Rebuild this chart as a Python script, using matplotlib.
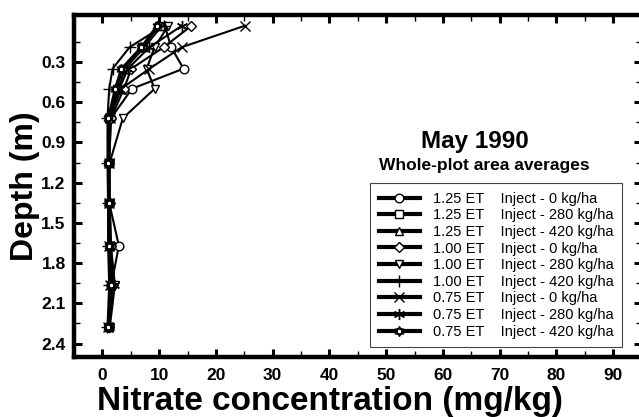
import matplotlib
matplotlib.use('Agg')
import matplotlib.pyplot as plt
from matplotlib.path import Path
from matplotlib.ticker import FixedLocator

plt.rcParams['font.family'] = ['Liberation Sans', 'DejaVu Sans']

# depth of each sample (m)
depth = [0.03, 0.19, 0.35, 0.50, 0.72, 1.05, 1.35, 1.67, 1.96, 2.28]

# nitrate (mg/kg) for each treatment
n_125_0 = [11.0, 12.1, 14.3, 5.2, 1.5, 1.2, 1.2, 2.9, 1.6, 1.2]
n_125_280 = [10.0, 7.0, 3.6, 2.5, 1.1, 1.1, 1.2, 1.3, 1.5, 1.1]
n_125_420 = [10.5, 7.4, 4.0, 2.8, 1.2, 1.1, 1.2, 1.3, 1.6, 1.1]
n_100_0 = [15.7, 10.8, 5.1, 3.8, 1.5, 1.2, 1.3, 1.5, 1.9, 1.2]
n_100_280 = [11.6, 9.2, 7.8, 9.2, 3.6, 1.3, 1.3, 1.5, 2.2, 1.3]
n_100_420 = [10.8, 4.8, 1.8, 1.2, 0.9, 0.9, 1.0, 1.0, 1.2, 0.9]
n_075_0 = [25.1, 14.0, 8.3, 3.3, 1.3, 1.1, 1.1, 1.2, 1.4, 1.0]
n_075_280 = [14.0, 8.3, 4.5, 3.0, 1.2, 1.1, 1.2, 1.3, 2.0, 1.1]
n_075_420 = [9.6, 6.8, 3.3, 2.2, 1.0, 1.0, 1.1, 1.2, 1.5, 1.0]

et_levels = ['1.25', '1.25', '1.25', '1.00', '1.00', '1.00', '0.75', '0.75', '0.75']
inject = ['0', '280', '420', '0', '280', '420', '0', '280', '420']

# two overlaid triangles for the last series
up = [(0, 1), (-0.866, -0.5), (0.866, -0.5), (0, 1)]
dn = [(0, -1), (0.866, 0.5), (-0.866, 0.5), (0, -1)]
codes = [Path.MOVETO, Path.LINETO, Path.LINETO, Path.CLOSEPOLY]
hexagram = Path(up + dn, codes + codes)

markers = ['o', 's', '^', 'D', 'v', '+', 'x', (6, 2, 0), hexagram]
msizes = [6.2, 5.6, 6.2, 5.2, 6.2, 8, 7, 8, 7]
series = [n_125_0, n_125_280, n_125_420, n_100_0, n_100_280, n_100_420,
          n_075_0, n_075_280, n_075_420]

fig = plt.figure(figsize=(6.39, 4.17), dpi=100)
ax = fig.add_axes([74/639, 1-357/417, 567.6/639, 342/417])

for vals, m, ms, et, inj in zip(series, markers, msizes, et_levels, inject):
    ax.plot(vals, depth, color='black', lw=1.5, marker=m, ms=ms,
            mfc='white', mec='black', mew=1.0,
            label=f'{et} ET    Inject - {inj} kg/ha')

ax.set_xlim(-5, 95)
ax.set_ylim(2.5, -0.05)

ax.xaxis.set_major_locator(FixedLocator(range(0, 91, 10)))
ax.xaxis.set_minor_locator(FixedLocator(range(5, 90, 10)))
yt = [0.3, 0.6, 0.9, 1.2, 1.5, 1.8, 2.1, 2.4]
ax.yaxis.set_major_locator(FixedLocator(yt))
ax.yaxis.set_minor_locator(FixedLocator([v - 0.15 for v in yt]))
ax.set_yticklabels(['%.1f' % v for v in yt])

ax.tick_params(which='both', direction='in', top=True, right=True)
ax.tick_params(which='major', length=6, width=2.2, labelsize=12.5, pad=6)
ax.tick_params(which='minor', length=4.5, width=1.0)
ax.tick_params(axis='x', which='major', pad=8)
for lbl in ax.get_xticklabels() + ax.get_yticklabels():
    lbl.set_fontweight('bold')
for sp in ax.spines.values():
    sp.set_linewidth(3.2)

ax.set_xlabel('Nitrate concentration (mg/kg)', fontsize=24, fontweight='bold')
ax.xaxis.set_label_coords(0.451, -0.085)
ax.set_ylabel('Depth (m)', fontsize=23, fontweight='bold', labelpad=1)

ax.text(65.7, 0.89, 'May 1990', fontsize=17.5, fontweight='bold', ha='center', va='center')
ax.text(67.3, 1.07, 'Whole-plot area averages', fontsize=12.5, fontweight='bold',
        ha='center', va='center')

leg = ax.legend(loc='upper left', bbox_to_anchor=(0.5215, 0.509), borderaxespad=0,
                fontsize=10.5, handlelength=2.8, handletextpad=0.9, labelspacing=0.18,
                borderpad=0.6, fancybox=False, framealpha=1, edgecolor='#444444')
leg.get_frame().set_linewidth(0.8)
for h in leg.legend_handles:
    h.set_linewidth(3)

fig.savefig('out.png', dpi=100)
